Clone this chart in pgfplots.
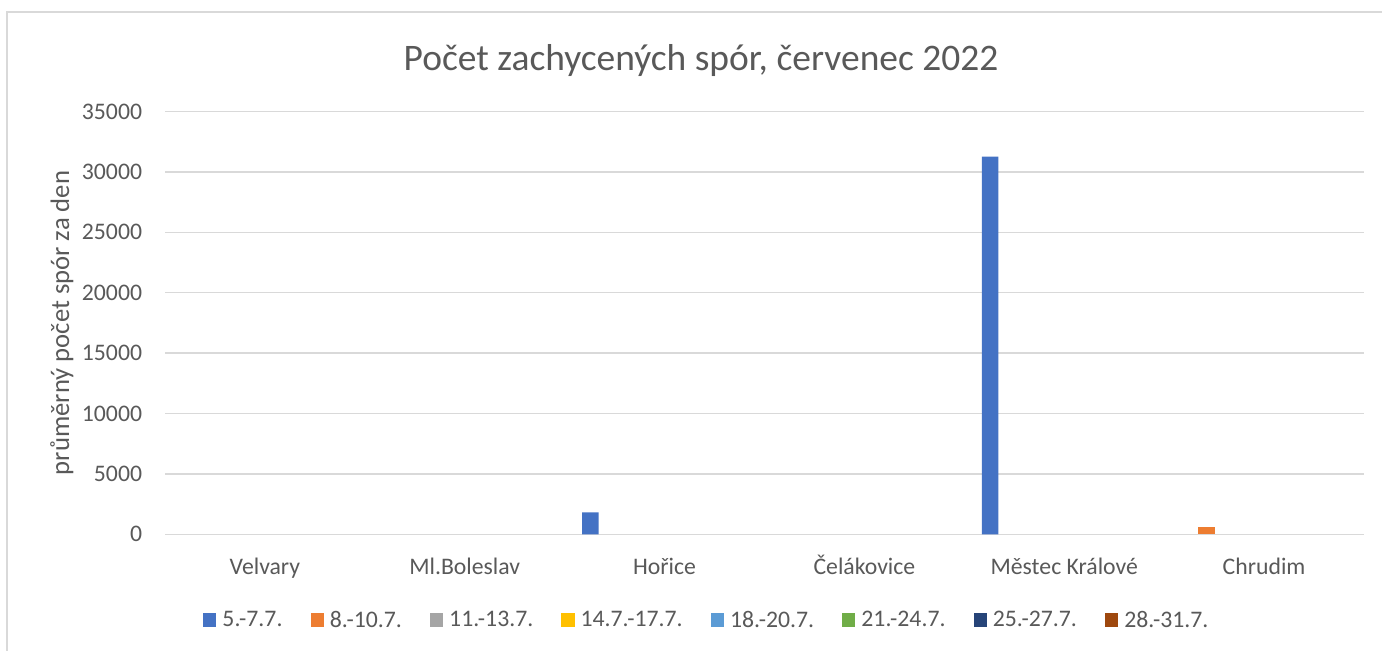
\documentclass[border=0pt]{standalone}
\usepackage{fontspec}
\setmainfont{Carlito}
\usepackage{pgfplots}
\pgfplotsset{compat=1.18}
\definecolor{txt}{HTML}{595959}
\definecolor{gridgray}{HTML}{D9D9D9}
\definecolor{c1}{HTML}{4472C4}
\definecolor{c2}{HTML}{ED7D31}
\definecolor{c3}{HTML}{A5A5A5}
\definecolor{c4}{HTML}{FFC000}
\definecolor{c5}{HTML}{5B9BD5}
\definecolor{c6}{HTML}{70AD47}
\definecolor{c7}{HTML}{264478}
\definecolor{c8}{HTML}{9E480E}
\begin{document}
\begin{tikzpicture}[x=1pt,y=1pt]
\useasboundingbox (0,0) rectangle (1036.5,487.5);
\draw[color=gridgray, line width=1pt] (5.25,-5) -- (5.25,478.5) -- (1045,478.5);
\begin{axis}[
  at={(123.75pt,86.8pt)}, anchor=south west,
  scale only axis, width=899.25pt, height=317pt,
  xmin=-0.5, xmax=5.5, ymin=0, ymax=35000,
  ytick={0,5000,...,35000},
  xtick={0,1,2,3,4,5},
  xticklabels={Velvary, Ml.Boleslav, Hořice, Čelákovice, Městec Králové, Chrudim},
  ymajorgrids, grid style={draw=gridgray, line width=1pt},
  axis line style={draw=none},
  major tick length=0pt,
  /pgf/number format/assume math mode=true,
  /pgf/number format/1000 sep={},
  scaled y ticks=false,
  ticklabel style={font=\fontsize{17.8}{20}\selectfont, text=txt},
  yticklabel style={anchor=east, inner sep=0pt, xshift=-17pt},
  xticklabel style={anchor=base, inner sep=0pt, yshift=-30pt},
  ylabel={průměrný počet spór za den},
  ylabel style={at={(axis description cs:-0.086,0.5)}, anchor=center, font=\fontsize{20}{24}\selectfont, text=txt},
  title={Počet zachycených spór, červenec 2022},
  title style={at={(axis description cs:0.447,1.103)}, anchor=center, font=\fontsize{28.1}{32}\selectfont, text=txt},
  ybar, bar width=12.375pt,
  legend columns=8,
  legend style={draw=none, at={(axis description cs:0.451,-0.203)}, anchor=center,
    font=\fontsize{17.8}{20}\selectfont, text=txt,
    nodes={inner xsep=0pt},
    /tikz/every odd column/.append style={column sep=4.5pt},
    /tikz/every even column/.append style={column sep=21pt}},
  legend image code/.code={\fill[#1] (0pt,-5pt) rectangle (10pt,5pt);},
]
% series 5.-7.7. (values: Velvary 0, Ml.Boleslav 0, Hořice 1820, Čelákovice 0, Městec Králové 31270, Chrudim 0)
\addplot[fill=c1, draw=none, bar shift=-55.69pt] coordinates {(2,1820) (4,31270)};
% series 8.-10.7. (only Chrudim 630, others 0)
\addplot[fill=c2, draw=none, bar shift=-43.31pt] coordinates {(5,630)};
\legend{5.-7.7., 8.-10.7.}
% remaining series are zero everywhere
\addlegendimage{fill=c3, draw=none}
\addlegendentry{11.-13.7.}
\addlegendimage{fill=c4, draw=none}
\addlegendentry{14.7.-17.7.}
\addlegendimage{fill=c5, draw=none}
\addlegendentry{18.-20.7.}
\addlegendimage{fill=c6, draw=none}
\addlegendentry{21.-24.7.}
\addlegendimage{fill=c7, draw=none}
\addlegendentry{25.-27.7.}
\addlegendimage{fill=c8, draw=none}
\addlegendentry{28.-31.7.}
\end{axis}
\end{tikzpicture}
\end{document}
